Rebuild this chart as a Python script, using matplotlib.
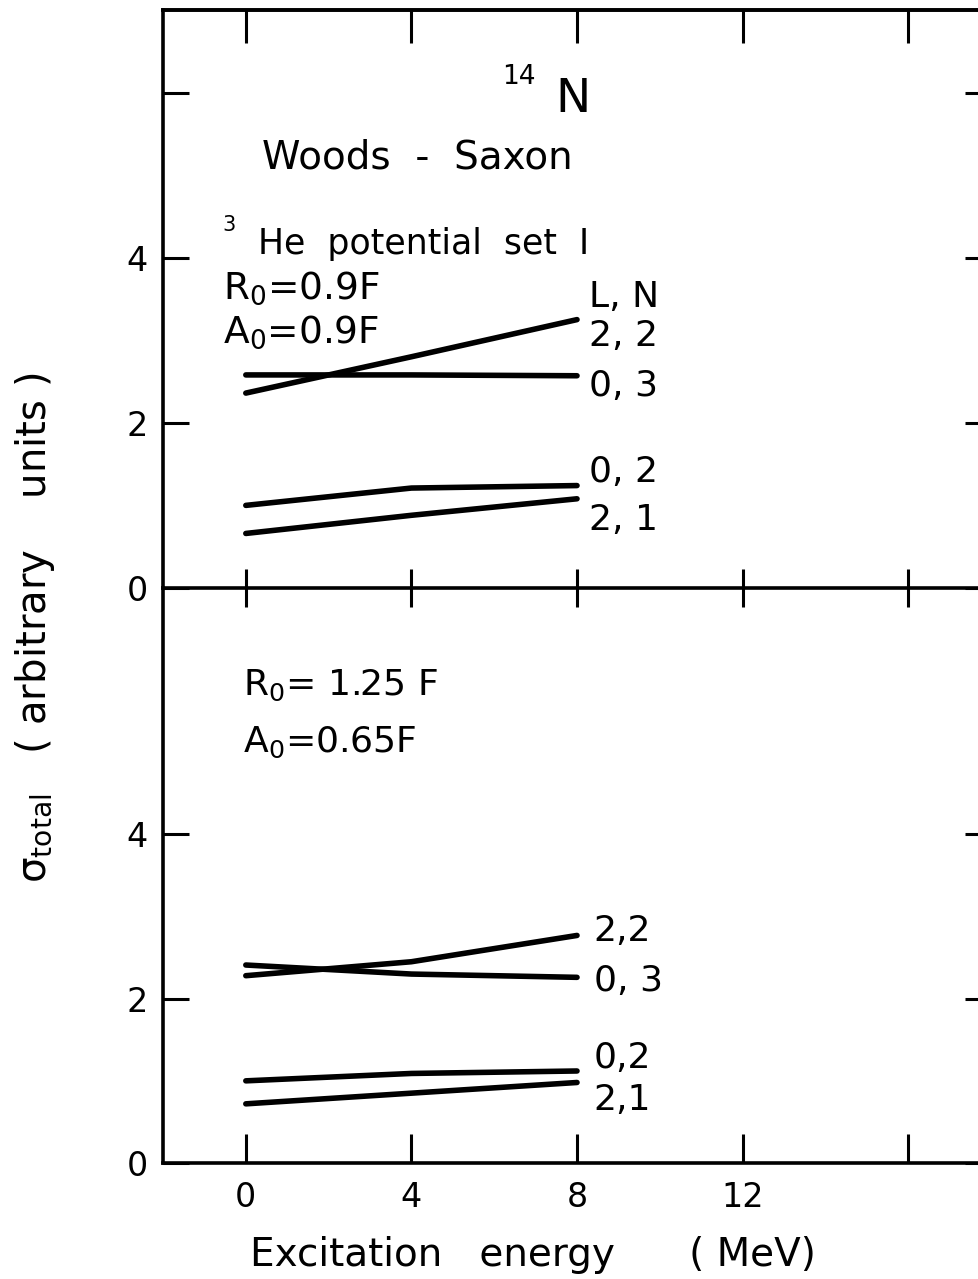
import matplotlib
matplotlib.use("Agg")
import matplotlib.pyplot as plt

plt.rcParams['font.family'] = ['DejaVu Sans']
plt.rcParams['mathtext.fontset'] = 'dejavusans'
plt.rcParams['mathtext.default'] = 'regular'

# ---- data ----
energy = [0, 4, 8]
labels = ["2, 2", "0, 3", "0, 2", "2, 1"]
top_22 = [2.36, 2.80, 3.25]
top_03 = [2.58, 2.58, 2.57]
top_02 = [1.00, 1.21, 1.24]
top_21 = [0.66, 0.88, 1.08]
bot_22 = [2.28, 2.45, 2.77]
bot_03 = [2.41, 2.30, 2.26]
bot_02 = [1.00, 1.09, 1.12]
bot_21 = [0.72, 0.85, 0.98]
xticks = [0, 4, 8, 12, 16]
xticklabels = ["0", "4", "8", "12", ""]
top_yticks = [0, 2, 4, 6]
top_yticklabels = ["0", "2", "4", ""]
bot_yticks = [0, 2, 4]
bot_yticklabels = ["0", "2", "4"]

fig = plt.figure(figsize=(9.79, 12.79), dpi=100)
ax2 = fig.add_axes([0.1665, 0.0907, 0.8458, 0.4496])
ax1 = fig.add_axes([0.1665, 0.5403, 0.8458, 0.4519])

lw = 4.0
for ax in (ax1, ax2):
    ax.set_facecolor('none')
    ax.set_xlim(-2, 18)
    ax.set_ylim(0, 7)
    for s in ax.spines.values():
        s.set_linewidth(2.6)
    ax.spines['right'].set_visible(False)
    ax.set_xticks(xticks)

# top panel
for series in (top_22, top_03, top_02, top_21):
    ax1.plot(energy, series, color='black', lw=lw, solid_capstyle='round')
ax1.set_yticks(top_yticks)
ax1.set_yticklabels(top_yticklabels)
ax1.set_xticklabels([])
ax1.tick_params(axis='y', which='both', direction='in', length=19, width=2.2,
                left=True, right=True, labelsize=24, pad=11)
ax1.tick_params(axis='x', which='both', top=False, bottom=True, direction='inout',
                length=27, width=2.2, labelbottom=False)
ax1t = ax1.secondary_xaxis('top')
ax1t.set_xticks(xticks)
ax1t.set_xticklabels([])
ax1t.tick_params(direction='in', length=24, width=2.2)
ax1t.spines['top'].set_linewidth(2.6)

# bottom panel
for series in (bot_22, bot_03, bot_02, bot_21):
    ax2.plot(energy, series, color='black', lw=lw, solid_capstyle='round')
ax2.set_yticks(bot_yticks)
ax2.set_yticklabels(bot_yticklabels)
ax2.set_xticklabels(xticklabels)
ax2.spines['top'].set_visible(False)
ax2.tick_params(axis='y', direction='in', length=19, width=2.2,
                left=True, right=True, labelsize=24, pad=11)
ax2.tick_params(axis='x', direction='in', top=False, bottom=True, length=21,
                width=2.2, labelsize=24, pad=13)
ax2.set_xlabel("Excitation   energy      ( MeV)", fontsize=28)
ax2.xaxis.set_label_coords(0.447, -0.16)
ax2.xaxis.label.set_va('center')

# y label
fig.text(35 / 979, 1 - 628 / 1279, r"$\sigma_{total}$   ( arbitrary    units )",
         rotation=90, ha='center', va='center', fontsize=29)

# annotations top panel
ax1.text(6.6, 6.19, "14", fontsize=19, ha='center', va='center')
ax1.text(7.9, 5.92, "N", fontsize=34, ha='center', va='center')
ax1.text(4.15, 5.21, "Woods  -  Saxon", fontsize=28, ha='center', va='center')
ax1.text(-0.4, 4.40, "3", fontsize=15, ha='center', va='center')
ax1.text(0.30, 4.16, "He  potential  set  I", fontsize=25, ha='left', va='center')
ax1.text(-0.55, 3.63, "R$_0$=0.9F", fontsize=27, ha='left', va='center')
ax1.text(-0.55, 3.10, "A$_0$=0.9F", fontsize=27, ha='left', va='center')
ax1.text(8.3, 3.52, "L, N", fontsize=26, ha='left', va='center')
for lab, yv in zip(labels, [3.05, 2.45, 1.40, 0.82]):
    ax1.text(8.3, yv, lab, fontsize=26, ha='left', va='center')

# annotations bottom panel
ax2.text(-0.07, 5.82, "R$_0$= 1.25 F", fontsize=26, ha='left', va='center')
ax2.text(-0.07, 5.12, "A$_0$=0.65F", fontsize=26, ha='left', va='center')
for lab, yv in zip(["2,2", "0, 3", "0,2", "2,1"], [2.83, 2.22, 1.28, 0.77]):
    ax2.text(8.4, yv, lab, fontsize=26, ha='left', va='center')

fig.savefig("out.png", dpi=100)
